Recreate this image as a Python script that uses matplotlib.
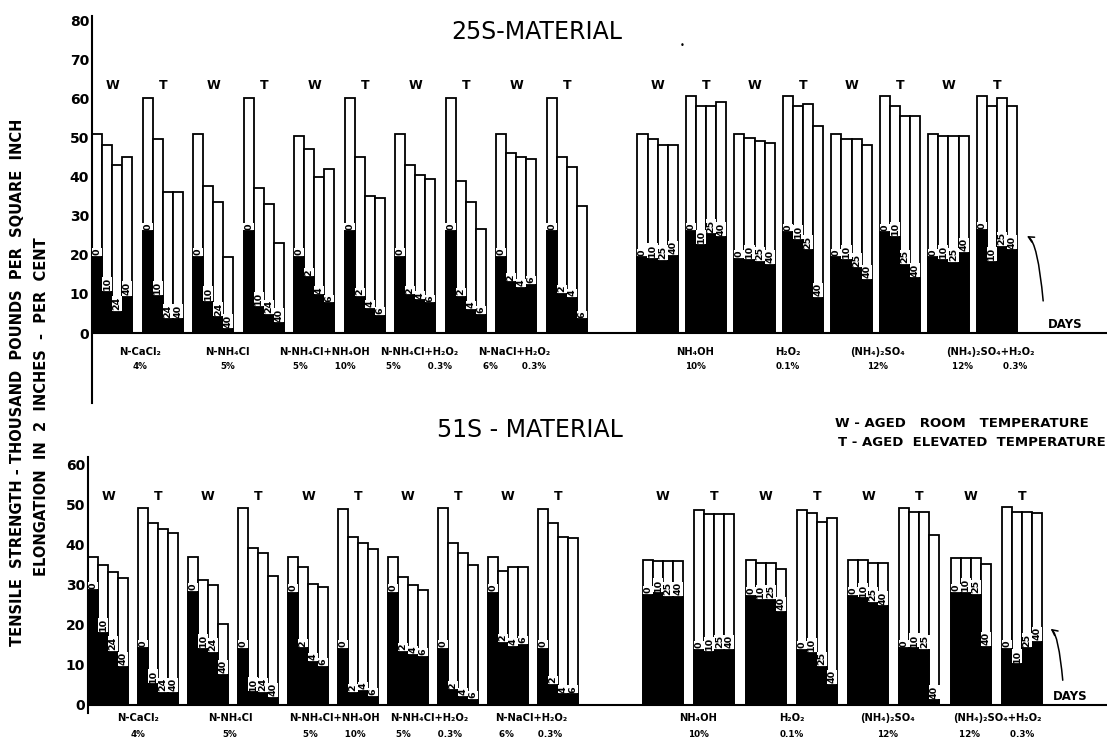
import numpy as np
import matplotlib.pyplot as plt

plt.rcParams['font.family'] = ['DejaVu Sans']

W_PX, H_PX = 1107, 744

# treatments (line 1 / line 2 under each W-T pair)
treatments = ["N-CaCl₂", "N-NH₄Cl", "N-NH₄Cl+NH₄OH", "N-NH₄Cl+H₂O₂", "N-NaCl+H₂O₂",
              "NH₄OH", "H₂O₂", "(NH₄)₂SO₄", "(NH₄)₂SO₄+H₂O₂"]
percents = ["4%", "5%", "5%         10%", "5%         0.3%", "6%        0.3%",
            "10%", "0.1%", "12%", "12%          0.3%"]

# day labels written on the bars
days_a = ["0", "10", "24", "40"]
days_b = ["0", "2", "4", "6"]
days_c = ["0", "10", "25", "40"]
group_days = [days_a] * 4 + [days_b] * 6 + [days_c] * 8
group_wt = ["W", "T"] * 9

# 25S material: tensile strength (1000 psi) and elongation (%) per group, 4 bars each
tensile_25s = [
    [51, 48, 43, 45], [60, 49.5, 36, 36],
    [51, 37.5, 33.5, 19.5], [60, 37, 33, 23],
    [50.5, 47, 40, 42], [60, 45, 35, 34.5],
    [51, 43, 40.5, 39.5], [60, 39, 33.5, 26.5],
    [51, 46, 45, 44.5], [60, 45, 42.5, 32.5],
    [51, 49.5, 48, 48], [60.5, 58, 58, 59],
    [51, 50, 49, 48.5], [60.5, 58, 58.5, 53],
    [51, 49.5, 49.5, 48], [60.5, 58, 55.5, 55.5],
    [51, 50.5, 50.5, 50.5], [60.5, 58, 60, 58],
]
elong_25s = [
    [19.5, 10.5, 5.5, 9.3], [26, 9.5, 3.5, 3.5],
    [19.5, 8, 4, 1], [26, 6.7, 4.6, 2.5],
    [19.5, 14.3, 9.7, 7.6], [26, 9.2, 6.2, 4.4],
    [19.5, 9.7, 8.4, 7.6], [26, 9.2, 6, 4.6],
    [19.5, 13, 11.5, 12.3], [26, 10, 9, 3.5],
    [19.4, 19, 18.5, 19.7], [26, 22.5, 25.3, 24.5],
    [19, 18.7, 18.2, 17.4], [25.8, 23.8, 21.2, 9],
    [19.4, 18.7, 16.6, 13.6], [25.8, 24.6, 17.4, 14],
    [19.4, 18.7, 17.9, 20.5], [26.3, 18.2, 22, 21.2],
]

# 51S material
tensile_51s = [
    [37, 35, 33.3, 31.7], [49.2, 45.5, 44, 43],
    [37, 31.2, 30, 20.2], [49.2, 39.3, 38, 32.3],
    [37, 34.5, 30.3, 29.5], [49, 42, 40.5, 39],
    [37, 32, 30, 28.7], [49.2, 40.5, 38, 35],
    [37, 33.5, 34.5, 34.5], [49, 45.5, 42, 41.8],
    [36.2, 36, 36, 36], [48.8, 47.8, 47.8, 47.8],
    [36.2, 35.6, 35.6, 34], [48.8, 48, 45.8, 46.8],
    [36.2, 36.2, 35.6, 35.6], [49.2, 48.2, 48.2, 42.5],
    [36.8, 36.8, 36.8, 35.2], [49.4, 48.2, 48.2, 48],
]
elong_51s = [
    [28.7, 18, 13.3, 9.5], [14.2, 5.2, 3, 3],
    [28.3, 14, 13, 7.5], [14, 3.2, 3, 1.8],
    [28, 14.2, 10.8, 9.5], [14, 3, 3.5, 2],
    [28, 13.3, 12.5, 12], [14, 3.7, 2, 1.3],
    [28, 15.5, 14.6, 15], [14, 5, 2.7, 2.7],
    [27.5, 27.9, 27, 27], [13.8, 13.3, 13.8, 13.8],
    [27.3, 26.3, 26.3, 23.3], [13.8, 13, 9.5, 5],
    [27.3, 26.7, 25.6, 24.7], [14.2, 14.2, 13.8, 1.2],
    [28, 28, 27.5, 14.5], [14, 10.2, 14.2, 15.8],
]


def group_starts(right_start, right_period):
    left = [5.0 * g for g in range(10)]
    right = [right_start + right_period * g for g in range(8)]
    return left + right


def draw_panel(ax, tensile, elong, starts, ticks, wt_y, lab_x, lab_y, days_xy, arrow):
    for g in range(18):
        x = starts[g] + np.arange(4) + 0.5
        ax.bar(x, tensile[g], width=1, color='white', edgecolor='black', lw=1.3, zorder=2)
        ax.bar(x, elong[g], width=1, color='black', edgecolor='black', lw=1.3, zorder=3)
        for xi, e, d in zip(x, elong[g], group_days[g]):
            ax.text(xi, e + 0.4, d, rotation=90, ha='center', va='bottom', fontsize=6.8,
                    fontweight='bold', zorder=4,
                    bbox=dict(fc='white', ec='none', pad=0.4))
        ax.text(starts[g] + 2, wt_y, group_wt[g], ha='center', va='center',
                fontsize=9, fontweight='bold')

    for t, p, lx in zip(treatments, percents, lab_x):
        ax.text(lx, lab_y[0], t, ha='center', va='center', fontsize=7.2,
                fontweight='bold', clip_on=False)
        ax.text(lx, lab_y[1], p, ha='center', va='center', fontsize=6.3,
                fontweight='bold', clip_on=False)

    ax.axhline(0, color='black', lw=1.5, zorder=5)
    ax.text(days_xy[0], days_xy[1], "DAYS", ha='center', va='center',
            fontsize=8.5, fontweight='bold')
    ax.annotate("", xy=arrow[1], xytext=arrow[0],
                arrowprops=dict(arrowstyle='->', lw=1.1, color='black',
                                connectionstyle="angle3,angleA=95,angleB=0"))

    for s in ['top', 'right', 'bottom']:
        ax.spines[s].set_visible(False)
    ax.spines['left'].set_linewidth(1.5)
    ax.set_xticks([])
    ax.set_yticks(ticks)
    ax.tick_params(axis='y', length=0, pad=2, labelsize=10)
    for lbl in ax.get_yticklabels():
        lbl.set_fontweight('bold')


fig = plt.figure(figsize=(W_PX / 100, H_PX / 100), dpi=100)

# top panel: 25S
ax1 = fig.add_axes([92 / W_PX, 1 - 403.4 / H_PX, (W_PX - 92) / W_PX, (403.4 - 16.3) / H_PX])
ax1.set_xlim(0, (W_PX - 92) / 10.1)
ax1.set_ylim(-18, 81)
draw_panel(ax1, tensile_25s, elong_25s, group_starts(54, 4.8), range(0, 81, 10),
           63.4, [4.75, 13.4, 23.0, 32.4, 41.8, 59.7, 68.9, 77.8, 88.9], (-4.9, -8.5),
           (96.4, 2.2), ((94.2, 7.5), (92.3, 25)))

# bottom panel: 51S
ax2 = fig.add_axes([88 / W_PX, 1 - 713 / H_PX, (W_PX - 88) / W_PX, (713 - 457) / H_PX])
ax2.set_xlim(0, (W_PX - 88) / 10.0)
ax2.set_ylim(-2, 62)
draw_panel(ax2, tensile_51s, elong_51s, group_starts(55.5, 5.13), range(0, 61, 10),
           52, [5.0, 14.2, 24.6, 34.1, 44.3, 61.0, 70.4, 80.0, 90.9], (-3.3, -7.4),
           (98.2, 2.2), ((97.5, 5.5), (96.0, 19.3)))

fig.text(537 / W_PX, 1 - 32 / H_PX, "25S-MATERIAL", ha='center', va='center', fontsize=17)
fig.text(682 / W_PX, 1 - 45 / H_PX, "•", ha='center', va='center', fontsize=6)
fig.text(530 / W_PX, 1 - 430 / H_PX, "51S - MATERIAL", ha='center', va='center', fontsize=17)

fig.text(835 / W_PX, 1 - 423 / H_PX, "W - AGED   ROOM   TEMPERATURE", ha='left', va='center',
         fontsize=9.5, fontweight='bold')
fig.text(838 / W_PX, 1 - 443 / H_PX, "T - AGED  ELEVATED  TEMPERATURE", ha='left', va='center',
         fontsize=9.5, fontweight='bold')

fig.text(18 / W_PX, 1 - 382 / H_PX,
         "TENSILE  STRENGTH - THOUSAND  POUNDS  PER  SQUARE  INCH",
         rotation=90, ha='center', va='center', fontsize=10.5, fontweight='bold')
fig.text(42 / W_PX, 1 - 407 / H_PX,
         "ELONGATION  IN  2  INCHES  -  PER  CENT",
         rotation=90, ha='center', va='center', fontsize=10.5, fontweight='bold')

fig.savefig("out.png", dpi=100)
